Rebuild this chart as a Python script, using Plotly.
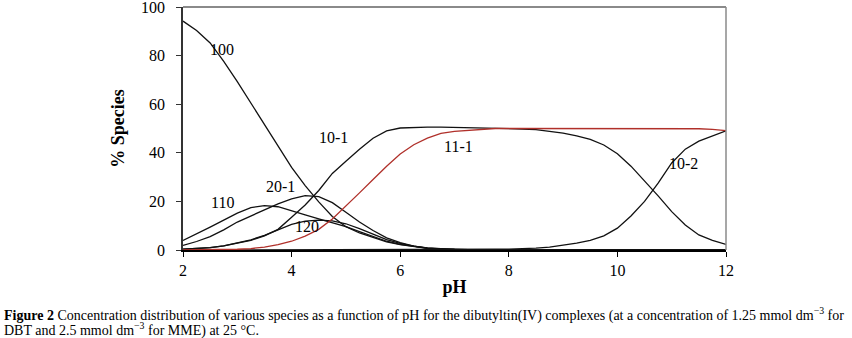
import plotly.graph_objects as go

# ---- data ----
pH = [2.0, 2.25, 2.5, 2.75, 3.0, 3.25, 3.5, 3.75, 4.0, 4.25, 4.5, 4.75, 5.0, 5.25, 5.5,
      5.75, 6.0, 6.25, 6.5, 6.75, 7.0, 7.25, 7.5, 7.75, 8.0, 8.25, 8.5, 8.75, 9.0, 9.25,
      9.5, 9.75, 10.0, 10.25, 10.5, 10.75, 11.0, 11.25, 11.5, 11.75, 12.0]

s100 = [94.2, 90.3, 85.2, 77.6, 69.3, 60.5, 51.5, 42.7, 34.0, 26.5, 19.8, 13.8, 9.6, 7.0, 5.0,
        3.3, 2.2, 1.3, 0.7, 0.3, 0.1, 0, 0, 0, 0, 0, 0, 0, 0, 0,
        0, 0, 0, 0, 0, 0, 0, 0, 0, 0, 0]
s110 = [3.9, 6.5, 9.4, 12.3, 15.2, 17.4, 18.3, 17.8, 16.3, 14.5, 12.8, 11.2, 9.6, 7.6, 5.5,
        3.6, 2.3, 1.4, 0.8, 0.4, 0.2, 0.1, 0, 0, 0, 0, 0, 0, 0, 0,
        0, 0, 0, 0, 0, 0, 0, 0, 0, 0, 0]
s20_1 = [1.9, 3.5, 5.5, 8.3, 11.5, 14.0, 16.6, 19.0, 21.0, 22.4, 22.0, 19.5, 15.5, 11.5, 8.0,
         5.0, 3.0, 1.6, 0.8, 0.4, 0.2, 0.1, 0, 0, 0, 0, 0, 0, 0, 0,
         0, 0, 0, 0, 0, 0, 0, 0, 0, 0, 0]
s120 = [0.3, 0.5, 1.0, 1.7, 2.8, 4.2, 6.0, 8.3, 10.5, 11.9, 12.3, 12.0, 10.8, 8.8, 6.5,
        4.3, 2.7, 1.6, 0.9, 0.4, 0.2, 0.1, 0, 0, 0, 0, 0, 0, 0, 0,
        0, 0, 0, 0, 0, 0, 0, 0, 0, 0, 0]
s10_1 = [0.3, 0.5, 1.0, 1.7, 2.7, 4.0, 5.8, 8.5, 13.5, 18.5, 24.5, 31.5, 36.5, 41.5, 46.0,
         49.0, 50.2, 50.5, 50.6, 50.6, 50.5, 50.1, 50.0, 50.0, 50.0, 49.8, 49.5, 48.9, 48.1, 47.0,
         45.5, 43.2, 39.6, 34.5, 28.5, 22.3, 15.8, 10.3, 6.2, 4.0, 2.3]
s10_2 = [0, 0, 0, 0, 0, 0, 0, 0, 0, 0, 0, 0, 0, 0, 0,
         0, 0, 0, 0, 0, 0, 0, 0, 0.3, 0.4, 0.5, 0.8, 1.2, 1.9, 2.8,
         4.0, 5.8, 9.0, 14.0, 20.0, 27.5, 35.8, 41.5, 44.8, 47.0, 49.0]
s11_1 = [0, 0, 0, 0.1, 0.3, 0.6, 1.2, 2.2, 3.6, 5.7, 8.5, 12.8, 18.0, 23.5, 29.0,
         34.5, 39.5, 43.3, 46.0, 48.0, 48.8, 49.3, 49.8, 50.0, 50.0, 50.0, 50.0, 50.0, 50.0, 50.0,
         50.0, 50.0, 50.0, 50.0, 50.0, 50.0, 50.0, 50.0, 49.9, 49.6, 49.1]

black_series = [("100", s100), ("110", s110), ("20-1", s20_1), ("120", s120),
                ("10-1", s10_1), ("10-2", s10_2)]

# label positions (pH, %)
labels = [("100", 2.72, 82.6), ("110", 2.73, 19.6), ("20-1", 3.79, 26.2), ("120", 4.29, 9.5),
          ("10-1", 4.78, 46.2), ("11-1", 7.08, 42.7), ("10-2", 11.21, 35.5)]

x_ticks = [2, 4, 6, 8, 10, 12]
y_ticks = [0, 20, 40, 60, 80, 100]

caption1 = ("<b>Figure 2</b> Concentration distribution of various species as a function of pH "
            "for the dibutyltin(IV) complexes (at a concentration of 1.25 mmol dm<sup>−3</sup> for")
caption2 = "DBT and 2.5 mmol dm<sup>−3</sup> for MME) at 25 °C."

SERIF = "Liberation Serif, Times New Roman, serif"

fig = go.Figure()
for name, vals in black_series:
    fig.add_trace(go.Scatter(x=pH, y=vals, mode="lines", name=name,
                             line=dict(color="#111111", width=1.3)))
fig.add_trace(go.Scatter(x=pH, y=s11_1, mode="lines", name="11-1",
                         line=dict(color="#b0302a", width=1.3)))

for txt, xx, yy in labels:
    fig.add_annotation(x=xx, y=yy, text=txt, showarrow=False,
                       font=dict(family=SERIF, size=16, color="black"))

W, H = 852, 338
L, R, T, B = 183, 126, 7, 88
pw, ph = W - L - R, H - T - B

def px_to_paper_x(px):
    return (px - L) / pw

def px_to_paper_y(py):
    return (H - B - py) / ph

fig.add_annotation(xref="paper", yref="paper", x=px_to_paper_x(2), y=px_to_paper_y(314.5),
                   xanchor="left", yanchor="middle", text=caption1, showarrow=False,
                   font=dict(family=SERIF, size=14, color="black"))
fig.add_annotation(xref="paper", yref="paper", x=px_to_paper_x(2), y=px_to_paper_y(329.5),
                   xanchor="left", yanchor="middle", text=caption2, showarrow=False,
                   font=dict(family=SERIF, size=14, color="black"))

# top and right frame (grey)
fig.add_shape(type="line", xref="x domain", yref="y domain", x0=0, x1=1, y0=1, y1=1,
              layer="above", line=dict(color="#8a8a8a", width=2))
fig.add_shape(type="line", xref="x domain", yref="y domain", x0=1, x1=1, y0=0, y1=1,
              layer="above", line=dict(color="#8a8a8a", width=1.5))

fig.update_layout(
    width=W, height=H,
    margin=dict(l=L, r=R, t=T, b=B, autoexpand=False),
    paper_bgcolor="white", plot_bgcolor="white",
    showlegend=False,
    xaxis=dict(range=[2, 12], tickvals=x_ticks, ticks="outside", ticklen=5,
               tickcolor="black", showline=True, linecolor="black", linewidth=1.5,
               showgrid=False, zeroline=False, automargin=False,
               ticklabeloverflow="allow",
               tickfont=dict(family=SERIF, size=16, color="black"),
               title=dict(text="<b>pH</b>", standoff=2,
                          font=dict(family=SERIF, size=18, color="black"))),
    yaxis=dict(range=[0, 100], tickvals=y_ticks, ticks="outside", ticklen=5,
               tickcolor="#333333", showline=True, linecolor="#333333", linewidth=1.5,
               showgrid=False, zeroline=False, automargin=False,
               ticklabeloverflow="allow", ticklabelstandoff=8,
               tickfont=dict(family=SERIF, size=16, color="black"),
               title=dict(text="<b>% Species</b>", standoff=12,
                          font=dict(family=SERIF, size=18, color="black"))),
)

fig.write_html("out.html", config={"displayModeBar": False},
               post_script="document.body.style.margin='0';document.body.style.overflow='hidden';")
